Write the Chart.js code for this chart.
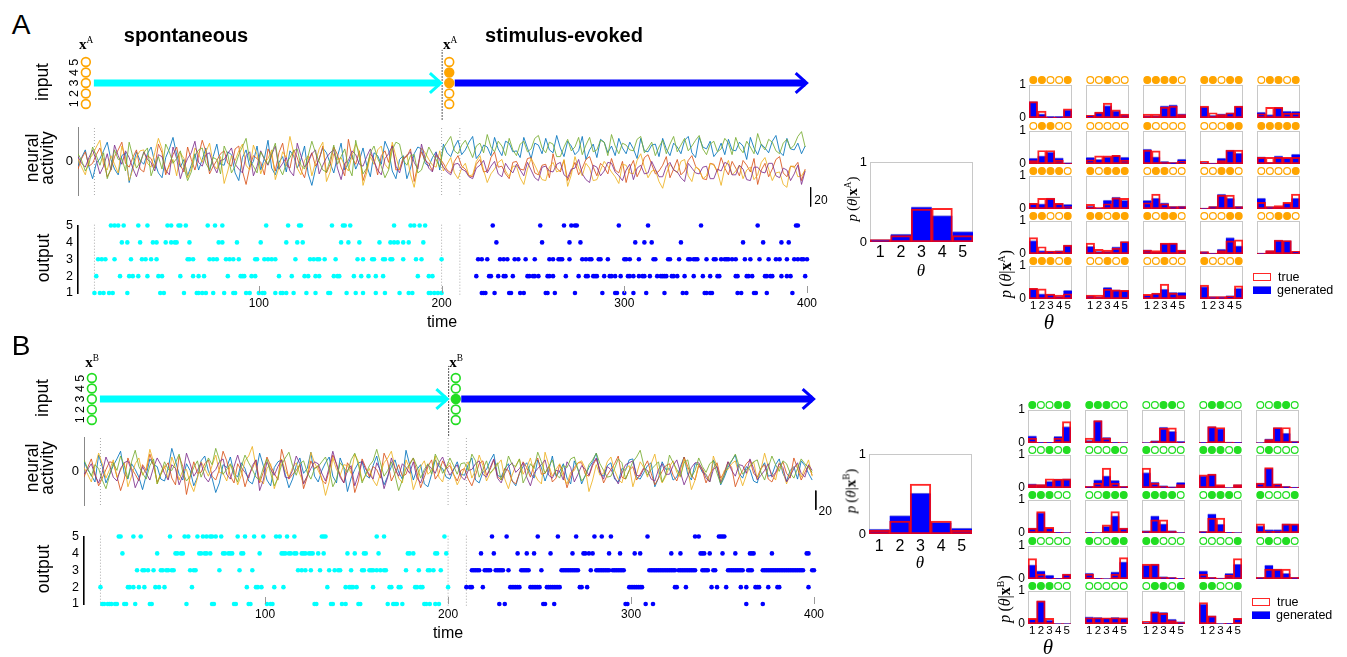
<!DOCTYPE html>
<html>
<head>
<meta charset="utf-8">
<title>spontaneous vs stimulus-evoked</title>
<script src="https://cdn.jsdelivr.net/npm/chart.js@4.4.1/dist/chart.umd.min.js"></script>
<style>
  body { margin: 0; width: 1347px; height: 657px; position: relative; overflow: hidden; background: #fff;
         font-family: 'Liberation Sans', Arial, sans-serif; color: #000; }
  canvas { position: absolute; }
  .lbl { position: absolute; white-space: nowrap; line-height: 1; transform: translate(-50%, -50%); }
  .rot { transform: translate(-50%, -50%) rotate(-90deg); text-align: center; }
  .serif { font-family: 'Liberation Serif', 'DejaVu Serif', serif; }
  sup { font-size: 0.62em; vertical-align: 0.6em; line-height: 0; }
  .sw { position: absolute; box-sizing: border-box; }
</style>
</head>
<body>
<script>
// ---------- data ----------
const neurons = [1, 2, 3, 4, 5];
const thetaLabels = ['1', '2', '3', '4', '5'];
const timeTicks = [100, 200, 300, 400];
const markTimes = [10, 200, 210];          // dotted lines
const neuralTime = Array.from({ length: 200 }, (_, k) => 1 + 2 * k);

const inputA = [0, 0, 1, 1, 0];
const inputB = [0, 0, 1, 0, 0];
const arrowSpont = [9.7, 199.6];
const arrowEvoked = [207.2, 399.8];
const scaleBar = 20;

// neural activity, 5 units each (blue, red, yellow, purple, green)
const traceA = [
  [-5,4,12,-6,-18,-2,3,11,20,2,-8,-14,6,9,-22,-5,10,1,-3,8, 15,-1,-12,-17,4,13,25,7,-6,2,-15,-4,8,-9,2,14,-10,5,18,-3,
   -4,10,7,-12,-20,4,12,-6,0,16,-9,3,22,-7,-14,-1,5,-11,11,6, -7,2,16,-13,-25,-8,3,14,9,-2,-12,5,19,-9,-2,7,-8,1,14,-4,
   -16,9,6,-3,21,12,-10,-18,2,6,-18,-7,8,15,13,-2,-5,4,10,-9,
   18,9,5,15,22,7,12,20,26,3,8,17,15,6,25,13,6,21,19,10, 11,4,25,14,3,19,17,8,24,12,9,27,14,5,21,16,7,11,26,2,
   12,18,4,23,20,9,16,6,24,14,8,20,13,3,24,11,10,17,18,5, 24,13,6,19,15,8,22,26,9,4,25,15,13,21,5,10,19,7,23,12,
   11,20,16,2,25,14,7,18,14,9,21,27,10,6,24,13,12,19,8,16],
  [-8,3,10,-5,-2,7,14,1,-16,-9,5,12,20,-2,-6,4,12,-8,-11,6, 3,-7,18,9,-14,-3,7,15,-4,-11,15,2,-9,6,22,10,-13,-5,1,8,
   11,-2,-5,13,16,-10,-24,-6,6,3,-1,-14,13,5,-10,9,19,-4,-7,12, 4,-9,-17,1,9,-5,2,16,-12,-3,15,7,-6,-15,23,4,-3,11,-20,-8,
   8,2,-14,6,11,-1,17,-9,-8,4,5,13,-21,-4,10,1,-2,-10,6,3,
   -2,-9,-12,0,6,-5,-8,-15,-16,-3,2,-11,-10,4,10,-6,-5,-13,-18,-1, 0,-8,-9,3,4,-12,-14,-4,-3,-17,8,-7,-11,1,-20,-10,-1,-14,-7,2,
   5,-6,-15,-2,-6,-13,3,-9,-12,0,-22,-7,1,-16,-8,4,7,-3,-13,-10, -4,5,-17,-8,2,-14,-10,1,6,-5,-9,-18,-19,-2,-3,-11,4,-7,-14,0,
   -7,-15,1,-4,-11,3,-24,-9,-2,-16,-8,2,5,-12,-16,-5,-6,-1,-20,-8],
  [3,-6,-14,2,7,15,22,-4,-9,6,-3,-12,16,4,-20,-8,5,11,12,-2, -6,9,24,13,-11,-5,2,-15,9,3,-17,-7,14,8,-1,10,19,-3,-8,5,
   -23,-10,6,1,11,18,-4,-9,17,7,-13,-2,3,12,-19,-6,10,4,26,9, -7,-14,1,6,-15,-1,13,20,-21,-11,8,2,4,-5,-10,7,18,10,-25,-12,
   5,-3,12,16,-3,-8,20,5,-9,1,7,-14,-27,-6,14,9,2,-4,-6,11,
   -10,-3,4,-12,-18,-7,-2,-15,-14,0,6,-9,-22,-13,-8,-1,2,-10,-16,-5, -5,-17,-24,-8,3,-4,-12,-19,-20,-6,-1,-11,-9,2,-26,-14,5,-7,-15,-2,
   -7,-20,-19,-9,0,-5,-11,-16,-23,-3,-4,-12,-13,1,8,-6,-17,-10,-9,-21, -28,-13,-3,-8,-12,0,2,-15,-21,-6,-8,-18,-15,-2,-4,-11,-25,-7,1,-14,
   -10,-4,-18,-9,-6,-19,-14,-1,4,-8,-20,-12,-11,-24,-27,-5,-5,-16,-15,-9],
  [5,-2,-6,4,12,1,-13,-5,8,-9,17,6,-3,11,4,-7,-16,-3,10,2, -1,-10,7,5,-9,-14,15,3,-18,-6,3,9,21,-1,-5,7,9,-4,-12,1,
   2,8,14,-3,-8,-12,6,10,-15,-5,11,2,-4,7,16,-8,-2,4,-10,-15, 19,6,-6,-1,8,12,-13,-4,4,9,12,-7,-19,-2,1,11,7,-3,-5,5,
   13,0,-9,-14,3,8,16,-5,-12,2,6,10,-1,-8,18,3,-7,-11,9,1,
   -6,-11,-14,-3,-2,-8,-10,-16,-18,-7,-4,1,-12,-5,0,-13,-16,-2,-8,-12, -3,-9,-15,-1,-9,-17,-20,-6,-5,-10,-11,-3,-1,-14,-17,-8,-7,2,-13,-19,
   -22,-4,-6,-15,-10,-1,-2,-11,-15,-20,-9,-3,-19,-7,-4,-13,-12,0,-8,-16, -16,-5,-1,-9,-11,-17,-21,-2,-7,-12,-13,-6,-5,-18,-18,-8,-10,-1,-3,-14,
   -14,-4,-8,-19,-20,-6,-6,-11,-12,-2,-2,-15,-17,-7,-9,-20,-13,-4,-24,-10],
  [8,1,-10,-3,15,6,-4,9,-18,-7,12,2,3,-10,20,5,-7,-1,9,14, -15,-4,5,-8,18,10,-2,3,11,-6,-20,-11,6,12,14,-2,-9,4,2,-13,
   16,7,-12,-5,7,15,24,1,-5,-12,10,3,-3,8,19,-6,-14,-2,4,11, 13,-4,-8,6,21,9,0,-9,-11,2,17,-3,5,13,-6,-15,22,4,-13,-7,
   9,16,3,-5,-17,-9,12,20,18,1,-4,6,7,-12,-9,3,15,8,2,-6,
   14,20,26,11,8,17,22,13,4,16,19,9,28,15,10,21,16,6,24,12, 6,18,21,10,13,24,27,14,9,20,18,5,5,15,23,11,15,25,7,17,
   25,10,12,22,20,6,28,16,8,19,17,12,11,23,26,9,14,20,6,15, 22,8,18,26,10,17,24,11,16,22,27,13,7,18,21,10,13,24,19,7,
   25,14,9,21,15,8,29,17,12,23,20,11,8,19,23,13,17,26,31,15]
];
const traceB = [
  [10,2,-4,-11,17,5,-12,-3,6,13,21,-2,-8,8,2,-6,-19,-4,13,7, 5,-8,-10,3,24,11,-3,-9,8,1,-15,-6,11,16,0,-7,-22,-12,7,4,
   15,-2,-6,9,3,-10,-13,-1,19,6,-9,-15,4,10,12,-3,-17,-8,6,14, -2,3,20,-5,-11,1,9,15,-5,-12,14,4,-21,-7,2,9,10,-4,-7,6,
   16,-1,-14,-5,5,12,-1,-8,22,7,-9,2,7,-13,-16,-3,12,5,3,-6, -8,2,10,-3,-4,7,14,-9,-12,-1,2,11,18,-4,-6,3,8,-10,-15,-2,
   5,9,-2,-7,12,4,-10,1,16,-5,0,8,-7,-13,11,2,-13,-4,4,10, 19,-2,-5,6,9,-8,-11,3,1,12,13,-6,-8,-1,6,9,-16,-7,10,2,
   3,-9,-6,5,15,-3,-9,8,7,-1,-3,-11,12,4,-14,-6,4,11,17,-2, -7,5,2,-10,-12,3,9,-5,-4,7,13,-2,-10,1,5,-8,11,6,-2,-9],
  [-6,4,13,-2,-15,-7,2,10,9,-5,-20,-8,14,3,-3,-10,7,1,18,6, -11,-3,4,9,-7,-14,16,5,-24,-6,10,-2,-1,8,12,-5,-9,2,21,11,
   -5,-12,8,1,-16,-4,3,12,-12,-1,15,6,-2,-9,23,9,-8,-3,1,7, -18,-6,11,3,6,-9,-13,1,17,8,-4,-12,9,2,-22,-10,13,4,-6,5,
   2,-7,19,10,-10,-2,7,-5,-3,8,14,-1,-17,-6,5,12,-8,-2,11,3, 6,-3,-10,1,3,-8,-15,-4,8,11,-4,2,12,-5,-9,3,1,-10,-13,-2,
   10,4,-6,7,14,-3,-2,5,-11,-7,7,-1,-17,-5,4,9,9,-3,-5,6, 13,2,-12,-4,2,8,16,-6,-8,1,5,-9,-3,4,11,-2,-14,-7,0,6,
   8,-4,-10,2,15,5,-4,-9,6,1,-12,-3,3,9,-7,-1,10,4,-16,-6, 1,8,12,-2,-6,3,7,-8,-11,-2,4,10,-2,-7,14,3,-9,-1,6,-4],
  [4,-3,-11,5,19,8,-7,2,12,-6,1,9,-16,-5,8,14,-4,3,23,10, -13,-2,6,-8,15,4,-9,1,2,-12,-21,-7,10,3,-5,6,17,-1,-2,-10,
   7,2,-14,-4,11,16,26,5,-8,-13,3,8,-18,-6,13,1,-6,4,9,-3, -12,-5,20,9,1,-7,-25,-11,14,2,-4,7,6,-2,18,10,-10,-4,3,-9,
   -15,-2,9,14,21,4,-7,-12,12,3,-19,-8,5,11,-3,1,16,-6,-11,5, 9,-3,-14,-6,4,10,-7,1,17,6,-10,-2,2,7,12,-8,-18,-4,6,13,
   -3,4,14,-2,-9,-13,20,7,-5,2,8,-6,-13,-1,1,9,11,3,-21,-9, 7,-4,-2,10,15,1,-8,-12,3,6,-16,-3,10,4,-6,8,18,-1,-12,-5,
   5,11,-1,-6,13,2,-19,-9,8,3,-4,-11,16,5,-10,1,2,8,11,-3, -15,-4,6,10,-8,2,19,5,-3,-9,9,1,-13,-2,4,7,-6,3,12,-5],
  [-3,2,8,-4,-12,-1,15,6,-6,-10,3,9,11,1,-17,-8,5,-2,-9,4, 14,7,-2,-9,7,3,-14,-4,19,8,-5,1,9,-6,-11,-2,2,10,13,-3,
   -8,5,17,4,-1,-7,6,12,-20,-9,10,2,-4,5,12,-6,-7,1,16,8, -13,-5,3,10,8,-2,-10,4,21,7,-6,-12,1,6,-15,-3,11,2,-3,-8,
   9,1,-18,-6,14,3,-5,8,4,-2,10,-7,-12,-1,7,3,-2,9,15,4, -4,2,7,-5,-9,1,2,8,11,-3,-6,4,13,-7,-12,-2,5,9,-1,3,
   9,-6,-15,-2,3,7,12,-4,-7,1,0,-9,10,4,-11,-3,6,2,-4,8, 14,-1,-8,5,2,-6,-13,-2,7,9,11,-4,-5,3,1,-8,-10,2,8,-3,
   -3,6,12,-1,-14,-5,4,9,9,2,-7,-11,2,5,-12,-3,10,1,-5,7, 6,-2,13,3,-9,-4,1,8,-6,-1,8,4,-11,-5,3,9,-2,-6,7,1],
  [12,3,-5,7,3,-9,-18,-4,9,1,16,6,-7,10,22,5,-2,-8,6,13, -13,-3,10,2,1,9,18,-1,-10,-5,4,11,-6,3,14,7,24,12,-3,2,
   8,-4,-11,5,17,9,2,-6,-9,4,13,-2,-15,-7,7,14,20,6,-4,8, 11,-1,-8,3,5,10,15,2,-16,-8,9,4,-1,12,19,7,-12,-3,6,11,
   23,9,-5,1,10,-4,-20,-9,3,7,14,5,-7,2,8,-3,18,10,-2,4, 14,6,-3,8,9,1,18,11,-6,2,11,-2,3,9,-9,-1,16,7,5,13,
   -12,-4,8,3,20,10,-2,5,12,-3,-7,6,4,13,15,2,-10,-5,7,12, 19,8,1,-6,-5,3,13,9,-8,1,10,15,22,6,-4,2,6,10,-11,-3,
   17,9,2,-5,9,12,-6,1,14,5,-1,8,11,-2,-13,-4,7,11,18,6, -3,2,5,10,12,-1,-9,4,16,7,0,11,8,-2,-7,3,13,8,4,-1]
];

// output spikes, rows = output unit 1..5
const spontA = [
  [10,13,15,18,20,28,46,48,59,66,67,69,71,75,81,86,87,93,95,100,102,103,109,112,113,115,119,126,131,138,139,148,153,157,164,169,177,182,184,193,194,196,198,200],
  [11,24,29,31,34,39,45,47,57,64,67,70,83,90,91,92,96,98,111,118,125,127,131,133,141,143,144,152,156,160,164,168,187,193,195],
  [12,14,16,21,30,36,38,41,44,61,62,64,73,75,77,82,84,86,89,98,99,103,105,107,109,120,128,130,132,133,136,142,154,157,162,163,168,169,172,173,179,186,189,200],
  [25,28,35,42,44,49,52,54,55,62,78,80,88,101,115,121,124,145,149,155,166,172,174,176,179,182,190],
  [19,21,23,26,34,39,50,52,56,57,60,72,76,80,104,116,122,123,140,146,147,150,174,183,185,188,191]
];
const evokedA = [
  [222,223,224,229,237,238,243,245,257,258,262,273,288,295,296,300,305,312,322,332,334,344,345,347,348,362,364,371,372,378,392],
  [219,226,227,231,234,235,239,247,248,250,251,253,258,259,261,268,275,279,280,283,284,285,289,292,293,295,298,302,303,305,308,310,311,314,318,320,321,322,323,326,327,329,333,338,343,347,351,352,361,362,367,368,370,377,378,380,381,386,389,391,399],
  [220,222,225,232,234,236,240,242,246,251,259,261,264,265,266,270,277,279,281,282,286,287,291,300,301,303,308,316,317,324,325,330,335,336,338,339,340,345,349,350,353,355,356,357,359,361,366,369,374,379,383,385,389,393,395,397,398,400],
  [230,255,270,276,306,311,315,331,365,376,386,390],
  [228,254,267,271,273,274,297,313,342,373,394,395]
];
const spontB = [
  [11,12,14,15,16,18,19,23,24,29,37,38,57,71,72,83,84,91,92,101,103,104,127,128,136,137,142,144,151,152,167,170,171,172,175,187,188,190,193,195],
  [10,25,26,28,31,34,40,42,45,60,90,95,96,98,105,110,134,144,146,147,148,150,159,168,169,173,174,182,183,185,186,200],
  [30,33,34,36,39,43,44,46,47,49,50,59,61,62,75,86,93,118,120,122,125,130,135,138,140,141,147,153,154,157,158,159,161,163,165,166,177,184,189,190,192,196],
  [22,41,51,52,54,55,64,65,67,68,70,77,78,80,81,82,87,88,97,109,110,111,113,114,116,117,120,121,122,124,125,126,129,132,145,149,154,155,162,178,179,181,193,194,199],
  [20,21,28,32,48,56,58,63,66,68,70,71,73,76,85,89,94,99,106,108,112,116,131,132,133,161,165,198]
];
const evokedB = [
  [228,231,252,253,258,297,298,308,312,363,372],
  [210,212,213,219,234,235,236,237,238,239,245,246,247,248,249,250,254,255,256,257,258,259,260,261,272,273,276,299,300,301,302,303,304,305,306,324,325,330,344,347,352,360,363,368,369,370,375,380,381,397],
  [213,214,215,216,217,220,221,222,223,226,227,228,229,230,233,240,241,242,243,244,251,262,263,264,265,266,267,268,269,270,271,278,
   281,282,283,284,285,286,287,288,290,291,292,293,294,295,296,310,311,312,313,314,315,316,317,318,319,320,321,322,323,324,
   326,327,328,329,330,331,332,333,334,335,339,340,341,342,345,346,353,354,355,356,357,358,359,360,361,364,365,366,
   372,373,374,375,376,377,378,379,380,381,382,383,384,385,386,387,388,389,390,391,392,393,394,399,400],
  [218,225,238,243,247,256,268,274,275,277,279,288,294,302,305,322,327,338,339,340,343,350,357,365,366,367,377,396,397],
  [224,232,249,260,270,280,284,289,309,335,337,348,349,350,351]
];

// p(theta | x) : centre panels
const centerGenA = [0.03, 0.10, 0.44, 0.33, 0.13];
const centerTrueA = [0.03, 0.08, 0.41, 0.42, 0.08];
const centerGenB = [0.06, 0.23, 0.51, 0.145, 0.075];
const centerTrueB = [0.045, 0.16, 0.625, 0.16, 0.045];

// 5x5 grids (row-major, last cell holds the legend)
const patA = [
  [1,1,0,0,1],[0,0,1,0,0],[1,1,1,1,0],[1,1,0,1,1],[0,1,1,0,1],
  [0,1,1,0,0],[0,0,0,0,0],[1,0,0,0,0],[0,0,0,1,1],[1,1,1,1,1],
  [1,1,1,1,0],[1,0,1,1,1],[0,1,1,0,0],[0,0,1,1,0],[0,0,0,0,1],
  [1,1,0,0,1],[1,1,0,1,1],[1,0,1,1,0],[0,0,0,1,1],[0,0,1,1,0],
  [1,1,1,0,1],[0,0,1,0,1],[0,0,1,0,0],[1,0,0,0,1]
];
const genA = [
  [0.5,0.13,0.05,0.05,0.25],[0.08,0.18,0.38,0.22,0.1],[0.07,0.07,0.37,0.4,0.13],[0.34,0.08,0.13,0.16,0.36],[0.18,0.1,0.32,0.21,0.2],
  [0.18,0.25,0.36,0.19,0.04],[0.2,0.14,0.22,0.26,0.21],[0.45,0.22,0.08,0.05,0.15],[0.06,0.03,0.18,0.42,0.33],[0.22,0.05,0.25,0.19,0.3],
  [0.17,0.16,0.33,0.17,0.14],[0.09,0.03,0.27,0.36,0.26],[0.26,0.33,0.19,0.08,0.09],[0.03,0.08,0.45,0.33,0.08],[0.33,0.07,0.07,0.18,0.33],
  [0.41,0.1,0.09,0.1,0.27],[0.23,0.08,0.08,0.22,0.38],[0.13,0.07,0.32,0.33,0.12],[0.07,0.03,0.15,0.5,0.25],[0.03,0.1,0.42,0.41,0.08],
  [0.32,0.16,0.15,0.08,0.26],[0.1,0.07,0.35,0.28,0.26],[0.11,0.17,0.3,0.2,0.2],[0.38,0.07,0.07,0.1,0.32]
];
const trueA = [
  [0.5,0.21,0.03,0.03,0.28],[0.08,0.18,0.45,0.25,0.12],[0.12,0.12,0.33,0.36,0.1],[0.36,0.16,0.1,0.16,0.36],[0.13,0.32,0.32,0.15,0.15],
  [0.1,0.41,0.41,0.12,0.03],[0.13,0.25,0.25,0.26,0.12],[0.42,0.4,0.06,0.04,0.08],[0.08,0.03,0.1,0.42,0.42],[0.2,0.2,0.2,0.2,0.2],
  [0.17,0.32,0.32,0.17,0.07],[0.14,0.05,0.16,0.34,0.32],[0.19,0.45,0.16,0.07,0.07],[0.03,0.07,0.42,0.42,0.07],[0.2,0.07,0.1,0.2,0.45],
  [0.5,0.22,0.09,0.09,0.27],[0.33,0.14,0.12,0.18,0.38],[0.12,0.1,0.33,0.33,0.12],[0.07,0.03,0.1,0.4,0.43],[0.03,0.1,0.42,0.41,0.08],
  [0.32,0.31,0.15,0.12,0.16],[0.12,0.12,0.3,0.28,0.26],[0.14,0.18,0.45,0.18,0.1],[0.42,0.07,0.07,0.08,0.4]
];
const patB = [
  [1,0,0,1,1],[1,1,1,0,0],[0,0,1,1,0],[0,1,1,0,0],[0,0,1,1,0],
  [0,0,1,0,1],[0,0,0,1,0],[1,0,0,0,0],[1,1,1,0,1],[0,1,0,0,0],
  [1,1,1,0,0],[0,0,1,1,1],[1,1,1,1,0],[0,1,1,1,0],[1,0,0,0,1],
  [1,0,0,0,0],[1,0,0,1,1],[1,1,0,0,0],[0,0,0,0,1],[0,1,0,1,0],
  [1,1,1,0,0],[0,0,0,0,0],[0,1,1,0,1],[1,1,0,0,1]
];
const genB = [
  [0.22,0.02,0.02,0.2,0.5],[0.08,0.68,0.17,0.02,0.01],[0.01,0.07,0.48,0.35,0.05],[0.02,0.5,0.44,0.03,0.02],[0.01,0.13,0.47,0.3,0.06],
  [0.13,0.1,0.2,0.27,0.28],[0.05,0.25,0.37,0.23,0.05],[0.47,0.18,0.07,0.04,0.17],[0.37,0.42,0.08,0.01,0.1],[0.15,0.6,0.13,0.05,0.03],
  [0.15,0.62,0.15,0.02,0.01],[0.02,0.01,0.2,0.52,0.15],[0.07,0.52,0.28,0.07,0.01],[0.05,0.58,0.27,0.02,0.01],[0.22,0.1,0.1,0.28,0.27],
  [0.43,0.25,0.12,0.02,0.15],[0.18,0.02,0.01,0.22,0.52],[0.42,0.45,0.07,0.05,0.02],[0.25,0.05,0.03,0.17,0.45],[0.05,0.42,0.3,0.17,0.05],
  [0.15,0.7,0.12,0.01,0.01],[0.22,0.2,0.18,0.2,0.19],[0.05,0.37,0.35,0.15,0.07],[0.6,0.25,0.01,0.02,0.17]
];
const trueB = [
  [0.15,0.02,0.02,0.15,0.65],[0.15,0.68,0.15,0.02,0.01],[0.01,0.05,0.45,0.46,0.03],[0.02,0.5,0.47,0.03,0.01],[0.01,0.1,0.47,0.47,0.04],
  [0.1,0.1,0.28,0.27,0.28],[0.05,0.15,0.6,0.15,0.05],[0.6,0.15,0.05,0.03,0.1],[0.4,0.42,0.1,0.01,0.1],[0.15,0.62,0.13,0.04,0.02],
  [0.15,0.65,0.17,0.02,0.01],[0.02,0.01,0.25,0.65,0.15],[0.05,0.4,0.4,0.06,0.01],[0.04,0.45,0.45,0.02,0.01],[0.28,0.05,0.05,0.28,0.28],
  [0.62,0.15,0.03,0.02,0.15],[0.15,0.02,0.01,0.15,0.65],[0.45,0.45,0.05,0.04,0.02],[0.15,0.05,0.03,0.12,0.62],[0.05,0.3,0.3,0.3,0.05],
  [0.17,0.7,0.17,0.01,0.01],[0.19,0.19,0.19,0.19,0.19],[0.08,0.37,0.32,0.1,0.05],[0.65,0.25,0.01,0.02,0.17]
];

// ---------- layout / style ----------
const SANS = "'Liberation Sans', Arial, sans-serif";
const traceColors = ['#0072BD', '#D95319', '#EDB120', '#7E2F8E', '#77AC30'];
const CYAN = '#00FFFF', BLUE = '#0000FF';
const geo = {
  A: { left: 78, right: 807, inTop: 62, inBot: 104, nTop: 125, nBot: 195, rTop: 223, rBot: 293, sbTop: -27, sbT: 402,
       hist: [870, 162], gx: [1029, 1086, 1143, 1200, 1257], gy: [85, 131, 176, 221, 266], col: '#FFA500', input: inputA },
  B: { left: 84, right: 814, inTop: 378, inBot: 420, nTop: 435, nBot: 505, rTop: 534, rBot: 604, sbTop: -20, sbT: 401,
       hist: [869, 454], gx: [1028, 1085, 1142, 1199, 1256], gy: [410, 455, 500, 546, 591], col: '#22DD22', input: inputB }
};
const noGrid = { display: false, drawTicks: false };

function addCanvas(x, y, w, h) {
  const c = document.createElement('canvas');
  c.width = w; c.height = h;
  c.style.left = x + 'px'; c.style.top = y + 'px';
  c.style.width = w + 'px'; c.style.height = h + 'px';
  document.body.appendChild(c);
  return c;
}

function baseOpts(padding) {
  return {
    responsive: false, animation: false, events: [],
    layout: { autoPadding: false, padding },
    plugins: { legend: { display: false }, tooltip: { enabled: false } }
  };
}

function txt(html, x, y, size, cls, css) {
  const d = document.createElement('div');
  d.className = 'lbl' + (cls ? ' ' + cls : '');
  d.style.left = x + 'px'; d.style.top = y + 'px'; d.style.fontSize = size + 'px';
  if (css) d.style.cssText += css;
  d.innerHTML = html;
  document.body.appendChild(d);
}

// grey box around histogram axes
const boxPlugin = {
  id: 'box',
  beforeDatasetsDraw(chart) {
    const { ctx, chartArea: a } = chart;
    ctx.save();
    ctx.strokeStyle = '#c8c8c8'; ctx.lineWidth = 1;
    ctx.strokeRect(Math.round(a.left) + 0.5, Math.round(a.top) + 0.5, Math.round(a.width) - 1, Math.round(a.height) - 1);
    ctx.restore();
  }
};

// short inward tick marks on the time axis
const inTicks = {
  id: 'inTicks',
  afterDatasetsDraw(chart) {
    const { ctx, chartArea, scales: { x } } = chart;
    ctx.save();
    ctx.strokeStyle = '#999'; ctx.lineWidth = 1;
    timeTicks.forEach(v => {
      const px = Math.round(x.getPixelForValue(v)) + 0.5;
      ctx.beginPath(); ctx.moveTo(px, chartArea.bottom); ctx.lineTo(px, chartArea.bottom - 7); ctx.stroke();
    });
    ctx.restore();
  }
};

const vline = (t, y0, y1, color, dash) => ({
  type: 'line', data: [{ x: t, y: y0 }, { x: t, y: y1 }], borderColor: color, borderWidth: 1,
  borderDash: dash, pointRadius: 0, clip: false, showLine: true, order: 10
});

// ---------- input row ----------
function inputChart(p) {
  const g = geo[p];
  const c = addCanvas(g.left - 20, g.inTop - 20, g.right - g.left + 40, g.inBot - g.inTop + 40);
  const head = (tip, color) => ({
    data: [{ x: tip - 6, y: 3.95 }, { x: tip, y: 3 }, { x: tip - 6, y: 2.05 }], showLine: true,
    borderColor: color, borderWidth: 3, pointRadius: 0, clip: false, borderJoinStyle: 'miter', order: 5
  });
  const shaft = (a, color) => ({
    data: [{ x: a[0], y: 3 }, { x: a[1] - 0.8, y: 3 }], showLine: true,
    borderColor: color, borderWidth: 7, pointRadius: 0, clip: false, order: 5
  });
  const circles = (t, pattern) => ({
    data: neurons.map(n => ({ x: t, y: n })), pointRadius: 4.4, pointBorderWidth: 1.6,
    pointBorderColor: g.col, pointBackgroundColor: pattern.map(f => f ? g.col : '#fff'), clip: false, order: 0
  });
  new Chart(c, {
    type: 'scatter',
    data: { datasets: [
      circles(5.3, [0, 0, 0, 0, 0]),
      circles(204.2, g.input),
      shaft(arrowSpont, CYAN), head(arrowSpont[1], CYAN),
      shaft(arrowEvoked, BLUE), head(arrowEvoked[1], BLUE),
      vline(200.3, -0.5, 6.15, '#222', [1.5, 1.5])
    ] },
    options: { ...baseOpts({ left: 20, right: 20, top: 20, bottom: 20 }),
      scales: { x: { type: 'linear', display: false, min: 1, max: 400 }, y: { display: false, min: 1, max: 5 } } }
  });
}

// ---------- neural activity ----------
function neuralChart(p, traces) {
  const g = geo[p];
  const c = addCanvas(g.left - 30, g.nTop - 10, g.right - g.left + 70, g.nBot - g.nTop + 35);
  const ds = traces.map((tr, i) => ({
    data: tr.map((v, k) => ({ x: neuralTime[k], y: v })), borderColor: traceColors[i],
    borderWidth: 0.85, pointRadius: 0, tension: 0, order: 5 - i
  }));
  markTimes.forEach(t => ds.push(vline(t, -35, 35, '#aaa', [1, 2])));
  ds.push({ data: [{ x: g.sbT, y: g.sbTop }, { x: g.sbT, y: g.sbTop - scaleBar }], borderColor: '#000',
            borderWidth: 1, pointRadius: 0, clip: false });
  new Chart(c, {
    type: 'line',
    data: { datasets: ds },
    options: { ...baseOpts({ left: 10, right: 40, top: 10, bottom: 25 }),
      scales: {
        x: { type: 'linear', display: false, min: 1, max: 400 },
        y: { min: -35, max: 35, grid: noGrid, border: { color: '#888', width: 1 },
             afterBuildTicks: s => { s.ticks = [{ value: 0 }]; },
             afterFit: s => { s.width = 20; },
             ticks: { font: { size: 13, family: SANS }, color: '#000', padding: 5 } }
      } }
  });
}

// ---------- output raster ----------
function rasterChart(p, spont, evoked) {
  const g = geo[p];
  const c = addCanvas(g.left - 30, g.rTop - 10, g.right - g.left + 50, g.rBot - g.rTop + 36);
  const dots = (rows, color) => ({
    data: rows.flatMap((ts, i) => ts.map(t => ({ x: t, y: neurons[i] }))),
    pointRadius: 2.3, pointBorderWidth: 0, pointBackgroundColor: color, clip: false, order: 1
  });
  const ds = [dots(spont, CYAN), dots(evoked, BLUE)];
  markTimes.forEach(t => ds.push(vline(t, 0.9, 5.1, '#aaa', [1, 2])));
  new Chart(c, {
    type: 'scatter',
    data: { datasets: ds },
    options: { ...baseOpts({ left: 10, right: 20, top: 10, bottom: 4 }),
      scales: {
        x: { type: 'linear', min: 1, max: 400, grid: noGrid, border: { display: false },
             afterBuildTicks: s => { s.ticks = timeTicks.map(v => ({ value: v })); },
             afterFit: s => { s.height = 22; },
             ticks: { font: { size: 12, family: SANS }, color: '#000', padding: 3.5, maxRotation: 0, autoSkip: false } },
        y: { min: 1, max: 5, grid: noGrid, border: { color: '#000', width: 1.6 },
             afterBuildTicks: s => { s.ticks = neurons.map(v => ({ value: v })); },
             afterFit: s => { s.width = 20; },
             ticks: { font: { size: 12.5, family: SANS }, color: '#000', padding: 5, autoSkip: false } }
      } },
    plugins: [inTicks]
  });
}

// ---------- histograms ----------
function hist(x0, y0, w, h, gen, tru, o) {
  const padT = 12, padL = 2, padR = 4, padB = 4;
  const c = addCanvas(x0 - padL - o.yW, y0 - padT, w + padL + o.yW + padR, h + padT + o.xH + padB);
  const ds = [
    { data: tru, backgroundColor: 'rgba(0,0,0,0)', borderColor: 'rgba(255,0,0,0.85)', borderWidth: 1.3, borderSkipped: false, order: 0 },
    { data: gen, backgroundColor: BLUE, borderColor: 'rgba(110,110,215,0.9)', borderWidth: { top: 1 }, order: 1 }
  ];
  if (o.pattern) ds.push({
    type: 'line', data: o.pattern.map(() => 1 + 5 / h), showLine: false, pointRadius: 3.4, pointBorderWidth: 1.2,
    pointBackgroundColor: o.pattern.map(f => f ? o.col : '#fff'), pointBorderColor: o.col, clip: false, order: -1
  });
  new Chart(c, {
    type: 'bar',
    data: { labels: thetaLabels, datasets: ds },
    options: { ...baseOpts({ left: padL, right: padR, top: padT, bottom: padB }),
      datasets: { bar: { grouped: false, barPercentage: 1, categoryPercentage: 1 } },
      scales: {
        x: { grid: noGrid, border: { display: false }, afterFit: s => { s.height = o.xH; },
             ticks: { display: o.showX, font: { size: o.fx, family: SANS }, color: '#000', padding: o.px, maxRotation: 0, autoSkip: false } },
        y: { min: 0, max: 1, grid: noGrid, border: { display: false },
             afterBuildTicks: s => { s.ticks = [{ value: 0 }, { value: 1 }]; },
             afterFit: s => { s.width = o.yW; },
             ticks: { display: o.showY, font: { size: o.fy, family: SANS }, color: '#000', padding: 3, autoSkip: false } }
      } },
    plugins: [boxPlugin]
  });
}

function panel(p, traces, spont, evoked, cGen, cTrue, pats, gens, trues) {
  const g = geo[p];
  inputChart(p);
  neuralChart(p, traces);
  rasterChart(p, spont, evoked);
  hist(g.hist[0], g.hist[1], 103, 80, cGen, cTrue, { yW: 20, xH: 24, fx: 16, fy: 13, px: p === 'A' ? 1 : 3, showX: true, showY: true });
  pats.forEach((pat, k) => {
    const r = Math.floor(k / 5), col = k % 5;
    hist(g.gx[col], g.gy[r], 43, 33, gens[k], trues[k],
         { yW: 18, xH: 14, fx: 11.5, fy: 12, px: 0, showX: r === 4, showY: col === 0, pattern: pat, col: g.col });
  });
}

panel('A', traceA, spontA, evokedA, centerGenA, centerTrueA, patA, genA, trueA);
panel('B', traceB, spontB, evokedB, centerGenB, centerTrueB, patB, genB, trueB);

// ---------- text ----------
const cond = (s) => '<b class="serif">x</b><sup>' + s + '</sup>';
const pLabel = (s) => '<i>p</i>&thinsp;(<i>&theta;</i>|<b>x</b><sup>' + s + '</sup>)';

txt('A', 21, 25, 28);
txt('<b>spontaneous</b>', 186, 35, 20);
txt('<b>stimulus-evoked</b>', 564, 35, 20);
[['A', 0], ['B', 316]].forEach(([s, dy]) => {
  const g = geo[s];
  const dx = g.left - 78;
  if (s === 'B') txt('B', 21, 346, 28);
  txt(cond(s), 86 + dx, 44 + dy + (s === 'B' ? 2 : 0), 15, 'serif');
  txt(cond(s), 450 + dx, 44 + dy + (s === 'B' ? 2 : 0), 15, 'serif');
  txt('1 2 3 4 5', 74 + dx, (g.inTop + g.inBot) / 2, 12.5, 'rot');
  txt('input', 43, (g.inTop + g.inBot) / 2 - 1, 17.5, 'rot');
  txt('neural<br>activity', 40, (g.nTop + g.nBot) / 2 - 2, 17.5, 'rot', 'line-height:15px;');
  txt('output', 44, (g.rTop + g.rBot) / 2, 17.5, 'rot');
  txt(String(scaleBar), 821 + dx * 0.7, g.nTop + 75 + (s === 'B' ? 1 : 0), 12);
  txt('time', 442 + dx, g.rBot + 29, 16);
  txt('<i>&theta;</i>', g.hist[0] + 51, g.hist[1] + 108, 17, 'serif');
  txt(pLabel(s), g.hist[0] - 18, g.hist[1] + 37, 15, 'serif rot');
  txt('<i>&theta;</i>', g.gx[0] + 20, g.gy[4] + 56, 21, 'serif');
  txt(pLabel(s), g.gx[0] - 23, g.gy[4] + 8, 16, 'serif rot');
  // legend
  const lx = g.gx[4] - 4, ly = g.gy[4] + 7;
  const sw1 = document.createElement('div');
  sw1.className = 'sw';
  sw1.style.cssText += `left:${lx}px;top:${ly}px;width:18px;height:8px;border:1.3px solid rgba(255,0,0,0.85);`;
  document.body.appendChild(sw1);
  const sw2 = document.createElement('div');
  sw2.className = 'sw';
  sw2.style.cssText += `left:${lx}px;top:${ly + 13}px;width:18px;height:8px;background:${BLUE};border-top:1px solid #6e6ed7;`;
  document.body.appendChild(sw2);
  txt('true', lx + 25, ly + 4, 12.5, '', 'transform:translate(0,-50%);');
  txt('generated', lx + 24, ly + 17, 12.5, '', 'transform:translate(0,-50%);');
});
</script>
</body>
</html>
